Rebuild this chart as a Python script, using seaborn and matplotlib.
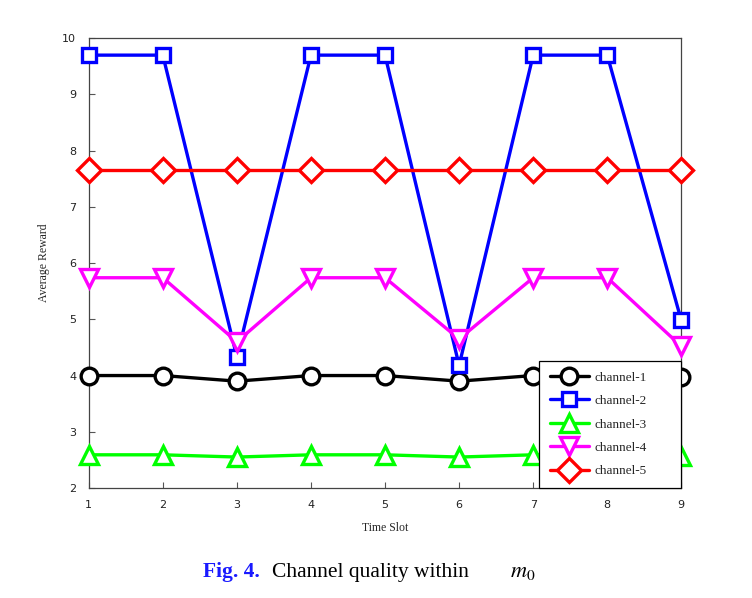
import pandas as pd
import matplotlib
matplotlib.use("Agg")
import matplotlib.pyplot as plt
import seaborn as sns

# valori
time_slot = [1, 2, 3, 4, 5, 6, 7, 8, 9]
channel_1 = [4.00, 4.00, 3.90, 4.00, 4.00, 3.90, 4.00, 4.00, 3.97]
channel_2 = [9.70, 9.70, 4.33, 9.70, 9.70, 4.18, 9.70, 9.70, 4.98]
channel_3 = [2.59, 2.59, 2.55, 2.59, 2.59, 2.55, 2.59, 2.59, 2.57]
channel_4 = [5.74, 5.74, 4.60, 5.74, 5.74, 4.65, 5.74, 5.74, 4.52]
channel_5 = [7.65, 7.65, 7.65, 7.65, 7.65, 7.65, 7.65, 7.65, 7.65]

nomi = ['channel-1', 'channel-2', 'channel-3', 'channel-4', 'channel-5']
colori = ['black', '#0000ff', '#00ff00', '#ff00ff', '#ff0000']
marker = ['o', 's', '^', 'v', 'D']

serie = [channel_1, channel_2, channel_3, channel_4, channel_5]
df = pd.concat([pd.DataFrame({'slot': time_slot, 'reward': v, 'canale': n})
                for n, v in zip(nomi, serie)], ignore_index=True)

sns.set_style('ticks', {'xtick.direction': 'in', 'ytick.direction': 'in'})
plt.rcParams['font.family'] = ['DejaVu Sans']
plt.rcParams['mathtext.fontset'] = 'stix'

fig = plt.figure(figsize=(7.52, 5.98), dpi=100)
ax = fig.add_axes([0.118, 0.184, 0.788, 0.752])

msize = [12, 10, 13, 13, 12]
for i, n in enumerate(nomi):
    sub = df[df['canale'] == n]
    sns.lineplot(data=sub, x='slot', y='reward', ax=ax, color=colori[i],
                 marker=marker[i], markersize=msize[i], linewidth=2.4,
                 mec=colori[i], mfc='white', mew=2.4, label=n, clip_on=False,
                 zorder=3)

ax.set_xlim(1, 9)
ax.set_ylim(2, 10)
ax.set_xticks(time_slot)
ax.set_yticks(range(2, 11))
ax.tick_params(axis='both', labelsize=8, length=4, width=0.8, colors='#555555',
               labelcolor='#222222', pad=9)
for s in ax.spines.values():
    s.set_visible(True)
    s.set_color('#444444')
    s.set_linewidth(0.9)

ax.set_xlabel('Time Slot', fontsize=8.5, family='Liberation Serif', labelpad=8)
ax.set_ylabel('Average Reward', fontsize=8.5, family='Liberation Serif', labelpad=9)

leg = ax.legend(loc='lower left', bbox_to_anchor=(0.76, 0.0, 0.24, 0.0), mode='expand',
                handlelength=3.0, borderaxespad=0, fancybox=False,
                prop={'family': 'Liberation Serif', 'size': 9.5}, labelspacing=0.85,
                borderpad=0.8, handletextpad=0.4, framealpha=1)
leg.get_frame().set_edgecolor('black')
leg.get_frame().set_linewidth(0.9)
leg.set_zorder(5)

# didascalia
fig.text(0.27, 0.035, 'Fig. 4.', color='#1a1aff', fontsize=15.5, fontweight='bold',
         family='Liberation Serif')
fig.text(0.362, 0.035, 'Channel quality within', color='black', fontsize=15.5,
         family='Liberation Serif')
fig.text(0.678, 0.035, r'$m_0$', color='black', fontsize=16)

plt.savefig('out.png', dpi=100)
